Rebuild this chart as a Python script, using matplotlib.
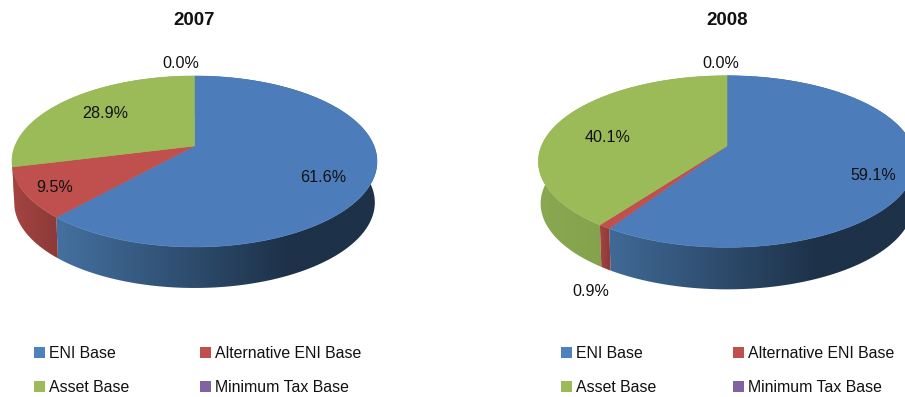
import numpy as np
import matplotlib
matplotlib.use("Agg")
import matplotlib.pyplot as plt
from matplotlib.colors import LinearSegmentedColormap
from matplotlib.patches import Polygon, Rectangle

years = ["2007", "2008"]
categories = ["ENI Base", "Alternative ENI Base", "Asset Base", "Minimum Tax Base"]
values_2007 = [61.6, 9.5, 28.9, 0.0]
values_2008 = [59.1, 0.9, 40.1, 0.0]
labels_2007 = ["61.6%", "9.5%", "28.9%", "0.0%"]
labels_2008 = ["59.1%", "0.9%", "40.1%", "0.0%"]
colors = ["#4c7dba", "#c0504d", "#9bbb59", "#8064a2"]
side_grad = [("#44709f", "#1d3148"), ("#a54441", "#8c3a38"),
             ("#8aa850", "#7a9648"), ("#6a5387", "#55426c")]

plt.rcParams["font.family"] = ["Liberation Sans"]

fig = plt.figure(figsize=(9.05, 3.97), dpi=100)
ax = fig.add_axes([0, 0, 1, 1])
ax.set_xlim(0, 905)
ax.set_ylim(397, 0)
ax.axis("off")


def arc(vals_from, vals_to, cx, vy, a, b, k, scale=1.0, dy=0.0):
    t = np.radians(np.linspace(vals_from, vals_to, 200) * 3.6)
    u, v = np.sin(t), np.cos(t)
    d = 1 + k * v
    return cx + scale * a * u / d, vy - b * v / d + dy


def pie3d(values, labels, pos, cx, vy, a, b, k, depth, year, label_xy, xknee):
    cum = np.concatenate([[0], np.cumsum(values)])
    cum = cum / cum[-1] * 100
    x0, x1 = cx - a * 1.05, cx + a * 1.05
    # extruded sides
    for i in np.argsort([abs(50 - (cum[j] + cum[j + 1]) / 2) for j in range(4)])[::-1]:
        if values[i] <= 0:
            continue
        xt, yt = arc(cum[i], cum[i + 1], cx, vy, a, b, k)
        xb, yb = arc(cum[i], cum[i + 1], cx, vy, a, b, k, scale=0.988, dy=depth)
        poly = Polygon(np.column_stack([np.r_[xt, xb[::-1]], np.r_[yt, yb[::-1]]]),
                       closed=True, transform=ax.transData, fc="none", ec="none")
        ax.add_patch(poly)
        cmap = LinearSegmentedColormap.from_list("s", [(0, side_grad[i][0]),
                                                       (1, side_grad[i][1])])
        xs = np.linspace(x0, x1, 256)
        if i == 0:
            g = np.clip((xs - (cx - 0.76 * a)) / (xknee - (cx - 0.76 * a)), 0, 1)
        else:
            lo, hi = xt.min(), xt.max()
            g = np.clip((xs - lo) / max(hi - lo, 1), 0, 1)
        im = ax.imshow(g[None, :], extent=(x0, x1, 320, 60),
                       cmap=cmap, vmin=0, vmax=1, aspect="auto", zorder=2)
        im.set_clip_path(poly)
    ax.set_xlim(0, 905)
    ax.set_ylim(397, 0)
    # top faces
    for i in range(4):
        if values[i] <= 0:
            continue
        xt, yt = arc(cum[i], cum[i + 1], cx, vy, a, b, k)
        ax.fill(np.r_[cx, xt], np.r_[vy, yt], color=colors[i], lw=0.4, zorder=3)
    for lab, (x, y) in zip(labels, label_xy):
        ax.text(x, y + 1, lab, ha="center", va="center", fontsize=11.6, color="#111111", zorder=5)
    ax.text(cx, 20.5, year, ha="center", va="center", fontsize=13.5, fontweight="bold", color="#111111")
    # legend
    for i, name in enumerate(categories):
        lx = pos[i % 2]
        ly = 352 if i < 2 else 386
        ax.add_patch(Rectangle((lx, ly - 5.5), 11, 11, fc=colors[i] if i != 0 else "#4f81bd", ec="none"))
        ax.text(lx + 14.5, ly + 1, name, ha="left", va="center", fontsize=11.4, color="#111111")


pie3d(values_2007, labels_2007, (34, 200), 194.5, 146, 179.5, 82.7, 0.181, 41, years[0],
      [(323, 177), (55, 187), (105, 113), (181, 62)], 290)
pie3d(values_2008, labels_2008, (561, 733), 727, 146, 185.5, 83, 0.181, 42, years[1],
      [(873, 175), (591, 290), (608, 137), (721, 62)], 820)

fig.savefig("out.png", dpi=100)
